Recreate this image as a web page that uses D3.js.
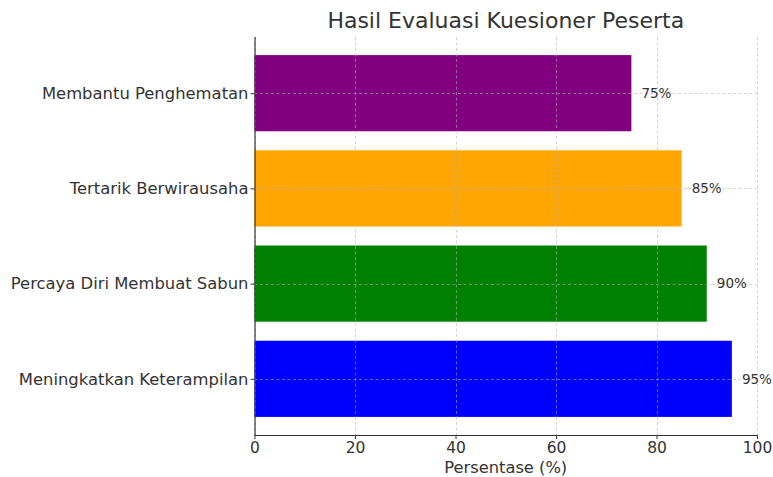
<!DOCTYPE html>
<html><head><meta charset="utf-8">
<script src="https://cdn.jsdelivr.net/npm/d3@7"></script>
<style>body{margin:0;background:#fff;} text{font-family:"DejaVu Sans",sans-serif;}</style>
</head><body>
<svg id="c" width="773" height="477"></svg>
<script>
const categories = ["Meningkatkan Keterampilan","Percaya Diri Membuat Sabun","Tertarik Berwirausaha","Membantu Penghematan"];
const values = [95,90,85,75];
const colors = ["#0000ff","#008000","#ffa500","#800080"];
const xTicks = [0,20,40,60,80,100];
const title = "Hasil Evaluasi Kuesioner Peserta";
const xLabel = "Persentase (%)";

const svg = d3.select("#c");
const L=254.5, R=757, T=37, B=435;
const x = d3.scaleLinear().domain([0,100]).range([L,R]);
const y = d3.scaleLinear().domain([-0.59,3.59]).range([B,T]);
const txt="#333";

// bars
svg.selectAll("rect.bar").data(values).enter().append("rect")
 .attr("x",x(0)).attr("y",(d,i)=>y(i+0.4)).attr("width",d=>x(d)-x(0))
 .attr("height",(d,i)=>y(i-0.4)-y(i+0.4)).attr("fill",(d,i)=>colors[i]);

// grid
const g=svg.append("g").attr("stroke","#b0b0b0").attr("stroke-opacity",0.7).attr("stroke-width",0.8).attr("stroke-dasharray","3,2.5");
xTicks.forEach(t=>g.append("line").attr("x1",Math.round(x(t))+0.5).attr("x2",Math.round(x(t))+0.5).attr("y1",T).attr("y2",B));
categories.forEach((c,i)=>g.append("line").attr("x1",L).attr("x2",R).attr("y1",Math.round(y(i))+0.5).attr("y2",Math.round(y(i))+0.5));

// axes
const xa=svg.append("g").attr("transform",`translate(0,${B})`).call(d3.axisBottom(x).tickValues(xTicks).tickSize(4).tickPadding(3).tickFormat(d3.format("d")));
xa.select(".domain").attr("stroke","#333").attr("stroke-width",1.2).attr("d",`M${L},0.5H${R}`);
xa.selectAll(".tick line").attr("stroke","#333");
xa.selectAll("text").attr("fill",txt).attr("font-size",15.5).attr("font-family","DejaVu Sans");

const ya=svg.append("g").attr("transform",`translate(${L},0)`).call(d3.axisLeft(y).tickValues([0,1,2,3]).tickSize(4).tickPadding(2).tickFormat(i=>categories[i]));
ya.select(".domain").attr("stroke","#333").attr("stroke-width",1.2).attr("d",`M0.5,${T}V${B}`);
ya.selectAll(".tick line").attr("stroke","#333");
ya.selectAll("text").attr("fill",txt).attr("font-size",16.4).attr("font-family","DejaVu Sans");

// value labels
svg.selectAll("text.val").data(values).enter().append("text")
 .attr("x",d=>x(d+2)).attr("y",(d,i)=>y(i)).attr("dy","0.35em")
 .attr("font-size",13.5).attr("fill",txt).text(d=>d+"%");

svg.append("text").attr("x",(L+R)/2).attr("y",28).attr("text-anchor","middle").attr("font-size",22).attr("fill",txt).text(title);
svg.append("text").attr("x",(L+R)/2).attr("y",473).attr("text-anchor","middle").attr("font-size",16.3).attr("fill",txt).text(xLabel);
</script>
</body></html>
